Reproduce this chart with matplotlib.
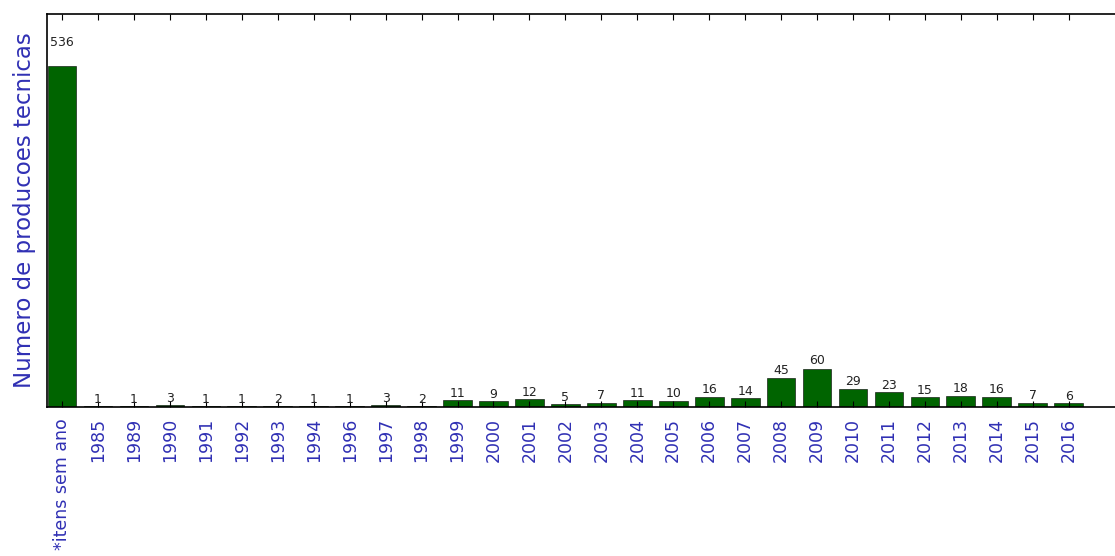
import matplotlib
matplotlib.use('Agg')
import matplotlib.pyplot as plt

# Data
anos = ['*itens sem ano', '1985', '1989', '1990', '1991', '1992', '1993', '1994',
        '1996', '1997', '1998', '1999', '2000', '2001', '2002', '2003', '2004',
        '2005', '2006', '2007', '2008', '2009', '2010', '2011', '2012', '2013',
        '2014', '2015', '2016']
quantidades = [536, 1, 1, 3, 1, 1, 2, 1, 1, 3, 2, 11, 9, 12, 5, 7, 11, 10, 16,
               14, 45, 60, 29, 23, 15, 18, 16, 7, 6]

azul = '#3030b4'

fig = plt.figure(figsize=(11.15, 5.56), dpi=100)
# axes run off the right edge like the cropped original
ax = fig.add_axes([47 / 1115, 1 - 407 / 556, 1090 / 1115, (407 - 14) / 556])

pos = list(range(len(anos)))
barras = ax.bar(pos, quantidades, width=0.8, color='#006400',
                edgecolor='black', linewidth=0.4)

# value labels just above each bar
for p, q in zip(pos, quantidades):
    ax.text(p, q * 1.05, str(q), ha='center', va='bottom', fontsize=9,
            color='#222222')

ax.set_xlim(-0.42, 29.9)
ax.set_ylim(0, 618)
ax.set_xticks(pos)
ax.set_xticklabels(anos, rotation=90, color=azul, fontsize=12.5)
ax.set_yticks([])
ax.set_ylabel('Numero de producoes tecnicas', color=azul, fontsize=16.5,
              labelpad=8)

ax.tick_params(axis='x', direction='in', top=True, length=4, width=0.8, pad=8)
for s in ['left', 'top', 'bottom']:
    ax.spines[s].set_linewidth(1.2)
ax.spines['right'].set_visible(False)

fig.savefig('out.png', dpi=100)
